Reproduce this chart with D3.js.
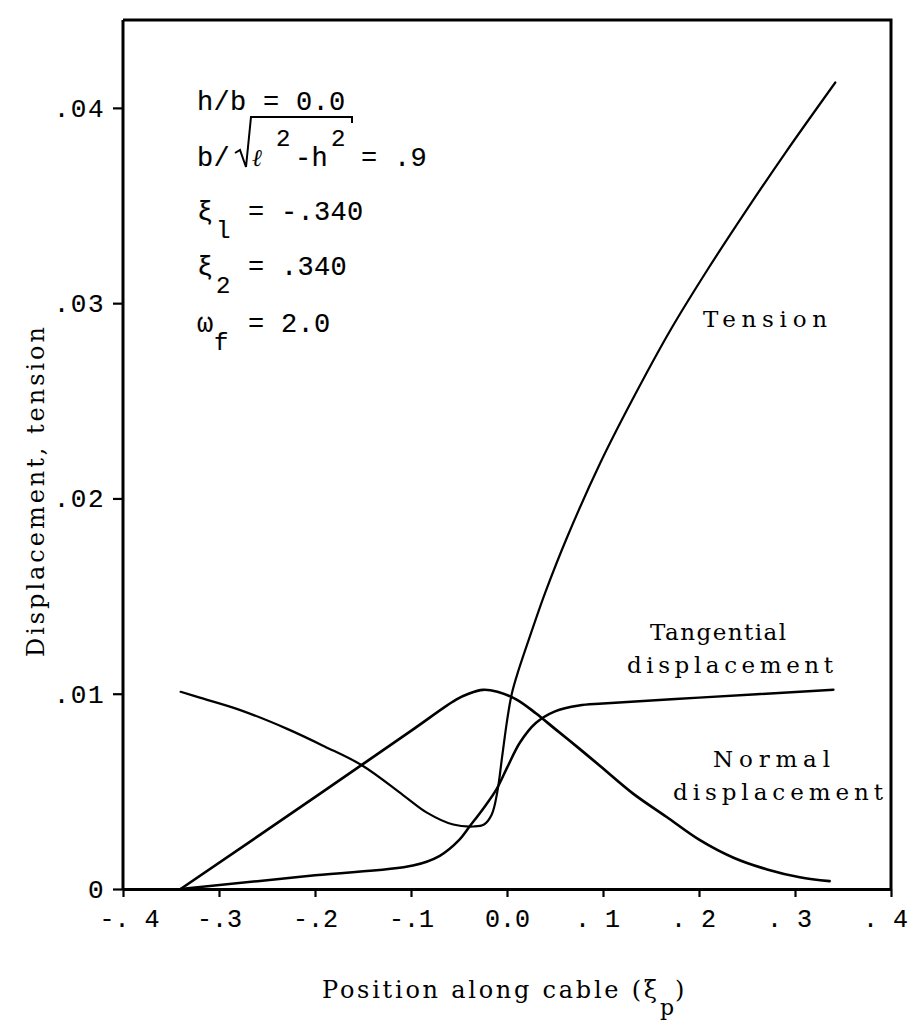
<!DOCTYPE html>
<html>
<head>
<meta charset="utf-8">
<script src="https://cdn.jsdelivr.net/npm/d3@7"></script>
<style>
  body { margin: 0; background: #fff; }
  svg { display: block; background: #fff; }
</style>
</head>
<body>
<svg id="chart" width="908" height="1020"></svg>
<script>
// Axis ticks
const xTickValues = [-0.4, -0.3, -0.2, -0.1, 0.0, 0.1, 0.2, 0.3, 0.4];
const xTickLabels = ["-. 4", "-.3", "-.2", "-.1", "0.0", ". 1", ". 2", ". 3", ". 4"];
const yTickValues = [0, 0.01, 0.02, 0.03, 0.04];
const yTickLabels = ["0", ".01", ".02", ".03", ".04"];

// Series: [position along cable ξp, value]
const tension = [
  [-0.340, 0.0101], [-0.320, 0.0098], [-0.280, 0.0092], [-0.229, 0.0082],
  [-0.190, 0.0073], [-0.150, 0.0063], [-0.108, 0.0048], [-0.083, 0.0039],
  [-0.056, 0.0033], [-0.035, 0.0032], [-0.024, 0.0033], [-0.016, 0.0038],
  [-0.010, 0.0050], [-0.005, 0.0068], [0.000, 0.0086], [0.005, 0.0100],
  [0.012, 0.0112], [0.025, 0.0131], [0.040, 0.0152], [0.0625, 0.0180],
  [0.097, 0.0218], [0.130, 0.0250], [0.170, 0.0286], [0.210, 0.0318],
  [0.250, 0.0348], [0.290, 0.0377], [0.342, 0.0413]
];
const normalDisp = [
  [-0.340, 0.0000], [-0.200, 0.0047], [-0.100, 0.0081], [-0.053, 0.0097],
  [-0.040, 0.0100], [-0.025, 0.0102], [-0.010, 0.0101], [0.010, 0.0097],
  [0.030, 0.0090], [0.050, 0.0082], [0.075, 0.0072], [0.097, 0.0063],
  [0.131, 0.0049], [0.166, 0.0037], [0.201, 0.0025], [0.236, 0.0016],
  [0.271, 0.0010], [0.305, 0.0006], [0.336, 0.0004]
];
const tangentialDisp = [
  [-0.340, 0.0000], [-0.200, 0.0007], [-0.098, 0.0012], [-0.070, 0.0017],
  [-0.050, 0.0025], [-0.039, 0.0032], [-0.025, 0.0041], [-0.011, 0.0051],
  [0.000, 0.0062], [0.0135, 0.0075], [0.030, 0.0085], [0.050, 0.0091],
  [0.075, 0.0094], [0.100, 0.0095], [0.200, 0.0098], [0.340, 0.0102]
];

const svg = d3.select("#chart");
const monoFont = "'Liberation Mono', 'DejaVu Sans Mono', monospace";
const serifFont = "'DejaVu Serif', 'Liberation Serif', serif";

const x = d3.scaleLinear().domain([-0.4, 0.4]).range([123, 891]);
const y = d3.scaleLinear().domain([0, 0.0445]).range([889, 20]);

// Frame: top and right edges
svg.append("path")
  .attr("d", `M${x(-0.4)},${y(0.0445)} L${x(0.4)},${y(0.0445)} L${x(0.4)},${y(0)}`)
  .attr("fill", "none").attr("stroke", "#000").attr("stroke-width", 3);

// Bottom axis
const gx = svg.append("g").attr("transform", `translate(0,${y(0)})`)
  .call(d3.axisBottom(x).tickValues(xTickValues)
    .tickFormat((d, i) => xTickLabels[i]).tickSize(8).tickSizeOuter(0).tickPadding(12));
gx.select(".domain").attr("stroke-width", 3);
gx.selectAll(".tick line").attr("stroke-width", 2.2);
gx.selectAll(".tick text").attr("font-family", monoFont).attr("font-size", 25)
  .attr("fill", "#000").attr("stroke", "#000").attr("stroke-width", 0.15)
  .attr("dx", d => d > 0 ? -6 : (d < -0.35 ? 6 : 0));

// Left axis
const gy = svg.append("g").attr("transform", `translate(${x(-0.4)},0)`)
  .call(d3.axisLeft(y).tickValues(yTickValues)
    .tickFormat((d, i) => yTickLabels[i]).tickSize(10).tickSizeOuter(0).tickPadding(8));
gy.select(".domain").attr("stroke-width", 3).attr("d", `M0,${y(0.0445)}V${y(0)}`);
gy.selectAll(".tick line").attr("stroke-width", 2.2);
gy.selectAll(".tick text").attr("font-family", monoFont).attr("font-size", 26)
  .attr("letter-spacing", 1.5)
  .attr("fill", "#000").attr("stroke", "#000").attr("stroke-width", 0.15);

// Curves
const line = d3.line().x(d => x(d[0])).y(d => y(d[1])).curve(d3.curveCatmullRom.alpha(0.5));
[[tension, 2.2], [normalDisp, 2.7], [tangentialDisp, 2.5]].forEach(([data, w]) => {
  svg.append("path").datum(data).attr("d", line)
    .attr("fill", "none").attr("stroke", "#000").attr("stroke-width", w)
    .attr("stroke-linejoin", "round").attr("stroke-linecap", "round");
});

// Curve labels
function label(txt, px, py, len) {
  svg.append("text").attr("x", px).attr("y", py).text(txt)
    .attr("font-family", serifFont).attr("font-size", 23).attr("fill", "#000")
    .attr("textLength", len).attr("lengthAdjust", "spacing");
}
label("Tension", 703, 327, 124);
label("Tangential", 650, 640, 136);
label("displacement", 627, 673, 206);
label("Normal", 713, 767, 117);
label("displacement", 673, 800, 210);

// Parameter block
function mono(txt, px, py, size) {
  svg.append("text").attr("x", px).attr("y", py).text(txt)
    .attr("font-family", monoFont).attr("font-size", size || 27)
    .attr("letter-spacing", 0.3).attr("fill", "#000")
    .attr("stroke", "#000").attr("stroke-width", 0.15);
}
mono("h/b = 0.0", 197, 110);
mono("b/", 197, 166);
svg.append("path").attr("d", "M235,153 L240,150 L246,167 L251,117 L352,117 L352,123")
  .attr("fill", "none").attr("stroke", "#000").attr("stroke-width", 2);
svg.append("text").attr("x", 252).attr("y", 166).text("\u2113")
  .attr("font-family", serifFont).attr("font-style", "italic").attr("font-size", 24).attr("fill", "#000");
mono("2", 276, 146, 24);
mono("-h", 295, 166);
mono("2", 331, 146, 24);
mono("= .9", 361, 166);
mono("\u03BE", 197, 220);
mono("l", 216, 238, 24);
mono("= -.340", 248, 220);
mono("\u03BE", 197, 275);
mono("2", 216, 293, 24);
mono("=  .340", 248, 275);
mono("\u03C9", 197, 332);
mono("f", 214, 350, 24);
mono("= 2.0", 248, 332);

// Axis titles
svg.append("text").attr("x", 322).attr("y", 998)
  .attr("font-family", serifFont).attr("font-size", 24).attr("fill", "#000")
  .text("Position along cable (\u03BE").attr("textLength", 335).attr("lengthAdjust", "spacing");
svg.append("text").attr("x", 660).attr("y", 1015).text("p")
  .attr("font-family", serifFont).attr("font-size", 22).attr("fill", "#000");
svg.append("text").attr("x", 675).attr("y", 998).text(")")
  .attr("font-family", serifFont).attr("font-size", 24).attr("fill", "#000");

svg.append("text")
  .attr("transform", "translate(44,492) rotate(-90)")
  .attr("text-anchor", "middle")
  .attr("font-family", serifFont).attr("font-size", 24).attr("fill", "#000")
  .attr("textLength", 330).attr("lengthAdjust", "spacing")
  .text("Displacement, tension");
</script>
</body>
</html>
